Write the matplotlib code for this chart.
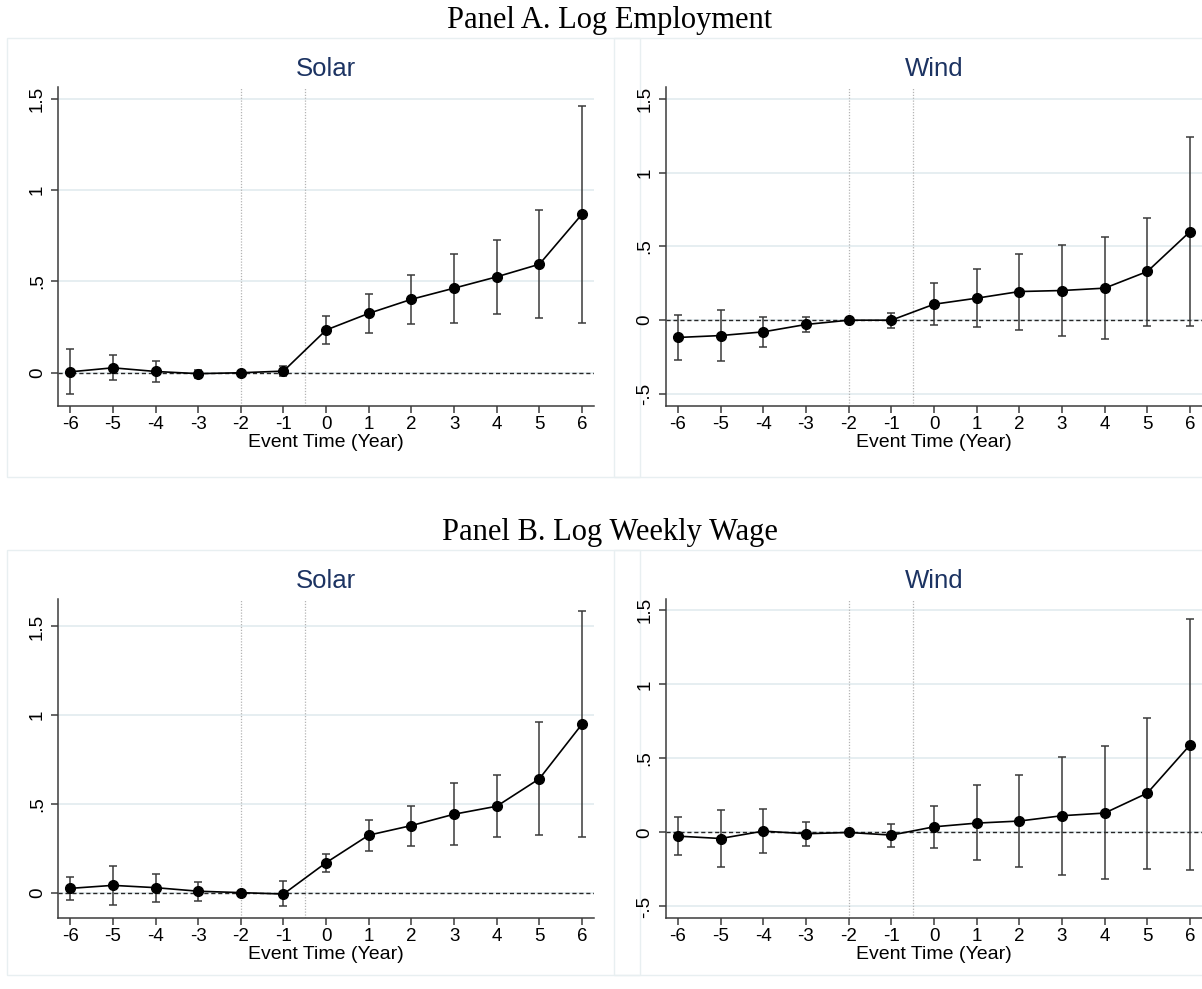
import matplotlib
matplotlib.use("Agg")
import matplotlib.pyplot as plt
from matplotlib.patches import Rectangle

# ---------------- data ----------------
event_time = [-6, -5, -4, -3, -2, -1, 0, 1, 2, 3, 4, 5, 6]
x_tick_labels = ["-6", "-5", "-4", "-3", "-2", "-1", "0", "1", "2", "3", "4", "5", "6"]

# Panel A. Log Employment
solar_emp = [0.005, 0.027, 0.007, -0.005, 0.0, 0.009, 0.234, 0.325, 0.402, 0.463, 0.525, 0.594, 0.868]
solar_emp_lo = [-0.117, -0.038, -0.049, -0.031, 0.0, -0.016, 0.157, 0.219, 0.269, 0.272, 0.322, 0.298, 0.272]
solar_emp_hi = [0.128, 0.095, 0.064, 0.016, 0.0, 0.037, 0.311, 0.431, 0.536, 0.651, 0.726, 0.890, 1.462]

wind_emp = [-0.117, -0.104, -0.079, -0.029, 0.0, 0.0, 0.108, 0.149, 0.194, 0.201, 0.217, 0.330, 0.600]
wind_emp_lo = [-0.271, -0.278, -0.181, -0.077, 0.0, -0.050, -0.032, -0.047, -0.065, -0.108, -0.129, -0.036, -0.038]
wind_emp_hi = [0.038, 0.070, 0.023, 0.023, 0.0, 0.052, 0.251, 0.345, 0.451, 0.510, 0.562, 0.695, 1.239]

# Panel B. Log Weekly Wage
solar_wage = [0.024, 0.041, 0.028, 0.008, 0.0, -0.008, 0.169, 0.324, 0.378, 0.442, 0.487, 0.642, 0.950]
solar_wage_lo = [-0.043, -0.068, -0.053, -0.049, 0.0, -0.077, 0.117, 0.237, 0.264, 0.267, 0.311, 0.324, 0.311]
solar_wage_hi = [0.088, 0.151, 0.107, 0.062, 0.0, 0.064, 0.218, 0.407, 0.489, 0.619, 0.664, 0.962, 1.590]

wind_wage = [-0.025, -0.041, 0.009, -0.009, 0.0, -0.018, 0.038, 0.063, 0.077, 0.113, 0.131, 0.266, 0.591]
wind_wage_lo = [-0.153, -0.232, -0.138, -0.090, 0.0, -0.097, -0.108, -0.189, -0.232, -0.286, -0.316, -0.244, -0.255]
wind_wage_hi = [0.104, 0.153, 0.158, 0.068, 0.0, 0.056, 0.180, 0.318, 0.390, 0.512, 0.582, 0.776, 1.441]

solar_yticks = [0, 0.5, 1, 1.5]
solar_yticklabels = ["0", ".5", "1", "1.5"]
wind_yticks = [-0.5, 0, 0.5, 1, 1.5]
wind_yticklabels = ["-.5", "0", ".5", "1", "1.5"]

panel_titles = ["Panel A. Log Employment", "Panel B. Log Weekly Wage"]
sub_titles = ["Solar", "Wind"]
x_label = "Event Time (Year)"
ref_lines = [-2, -0.5]

# ---------------- figure ----------------
W, H = 1202, 989
fig = plt.figure(figsize=(W / 100, H / 100), dpi=100)

SANS = ["Liberation Sans", "DejaVu Sans"]
SERIF = ["Liberation Serif", "DejaVu Serif"]
TITLE_COLOR = "#1c3362"
GRID_COLOR = "#e6eef1"
FRAME_COLOR = "#e8eff1"
AXIS_COLOR = "#3c3c3c"


def fig_rect(left, top, right, bottom):
    return [left / W, 1 - bottom / H, (right - left) / W, (bottom - top) / H]


def frame(left, top, right, bottom):
    fig.add_artist(Rectangle((left / W, 1 - bottom / H), (right - left) / W, (bottom - top) / H,
                             transform=fig.transFigure, fill=False, edgecolor=FRAME_COLOR,
                             linewidth=1.0, zorder=0))


def draw(ax, y, lo, hi, ylim, yticks, yticklabels, title):
    ax.set_xlim(-6.28, 6.28)
    ax.set_ylim(*ylim)
    for s in ["top", "right"]:
        ax.spines[s].set_visible(False)
    for s in ["left", "bottom"]:
        ax.spines[s].set_color(AXIS_COLOR)
        ax.spines[s].set_linewidth(1.1)
    ax.set_yticks(yticks)
    ax.set_yticklabels(yticklabels, rotation=90, va="center", fontsize=13.5, family=SANS)
    ax.set_xticks(event_time)
    ax.set_xticklabels(x_tick_labels, fontsize=13.5, family=SANS)
    ax.tick_params(axis="both", length=5, width=1.1, color=AXIS_COLOR)
    ax.tick_params(axis="y", pad=4)
    ax.tick_params(axis="x", pad=2)
    ax.grid(axis="y", color=GRID_COLOR, linewidth=1.4, zorder=0)
    ax.set_axisbelow(True)
    for xv in ref_lines:
        ax.axvline(xv, color="#b4b4b4", linewidth=0.9, linestyle=(0, (1, 1.3)), zorder=1)
    ax.axhline(0, color="#262626", linewidth=1.0, linestyle=(0, (3, 2)), zorder=2)
    yerr = [[yy - l for yy, l in zip(y, lo)], [h - yy for yy, h in zip(y, hi)]]
    ax.errorbar(event_time, y, yerr=yerr, fmt="none", ecolor="#3a3a3a", elinewidth=1.1,
                capsize=3, capthick=1.1, zorder=3)
    ax.plot(event_time, y, color="black", linewidth=1.2, marker="o", markersize=7,
            markerfacecolor="black", markeredgecolor="black", zorder=4)
    ax.set_title(title, fontsize=18.5, color=TITLE_COLOR, family=SANS, pad=8)
    ax.set_xlabel(x_label, fontsize=14, family=SANS, labelpad=1)


# frames
frame(7, 38, 640, 477)
frame(614, 38, 1240, 477)
frame(7, 550, 640, 975)
frame(614, 550, 1240, 975)

# Panel A
axA1 = fig.add_axes(fig_rect(58.3, 87, 594, 406))
draw(axA1, solar_emp, solar_emp_lo, solar_emp_hi, (-0.182, 1.564),
     solar_yticks, solar_yticklabels, sub_titles[0])
axA2 = fig.add_axes(fig_rect(666, 87, 1202, 406))
draw(axA2, wind_emp, wind_emp_lo, wind_emp_hi, (-0.581, 1.579),
     wind_yticks, wind_yticklabels, sub_titles[1])

# Panel B
axB1 = fig.add_axes(fig_rect(58.3, 599, 594, 918))
draw(axB1, solar_wage, solar_wage_lo, solar_wage_hi, (-0.143, 1.655),
     solar_yticks, solar_yticklabels, sub_titles[0])
axB2 = fig.add_axes(fig_rect(666, 599, 1202, 918))
draw(axB2, wind_wage, wind_wage_lo, wind_wage_hi, (-0.578, 1.577),
     wind_yticks, wind_yticklabels, sub_titles[1])

fig.text(610 / W, 1 - 28 / H, panel_titles[0], ha="center", va="baseline",
         fontsize=22, family=SERIF, color="black")
fig.text(610 / W, 1 - 540 / H, panel_titles[1], ha="center", va="baseline",
         fontsize=22, family=SERIF, color="black")

fig.savefig("out.png", dpi=100, facecolor="white")
